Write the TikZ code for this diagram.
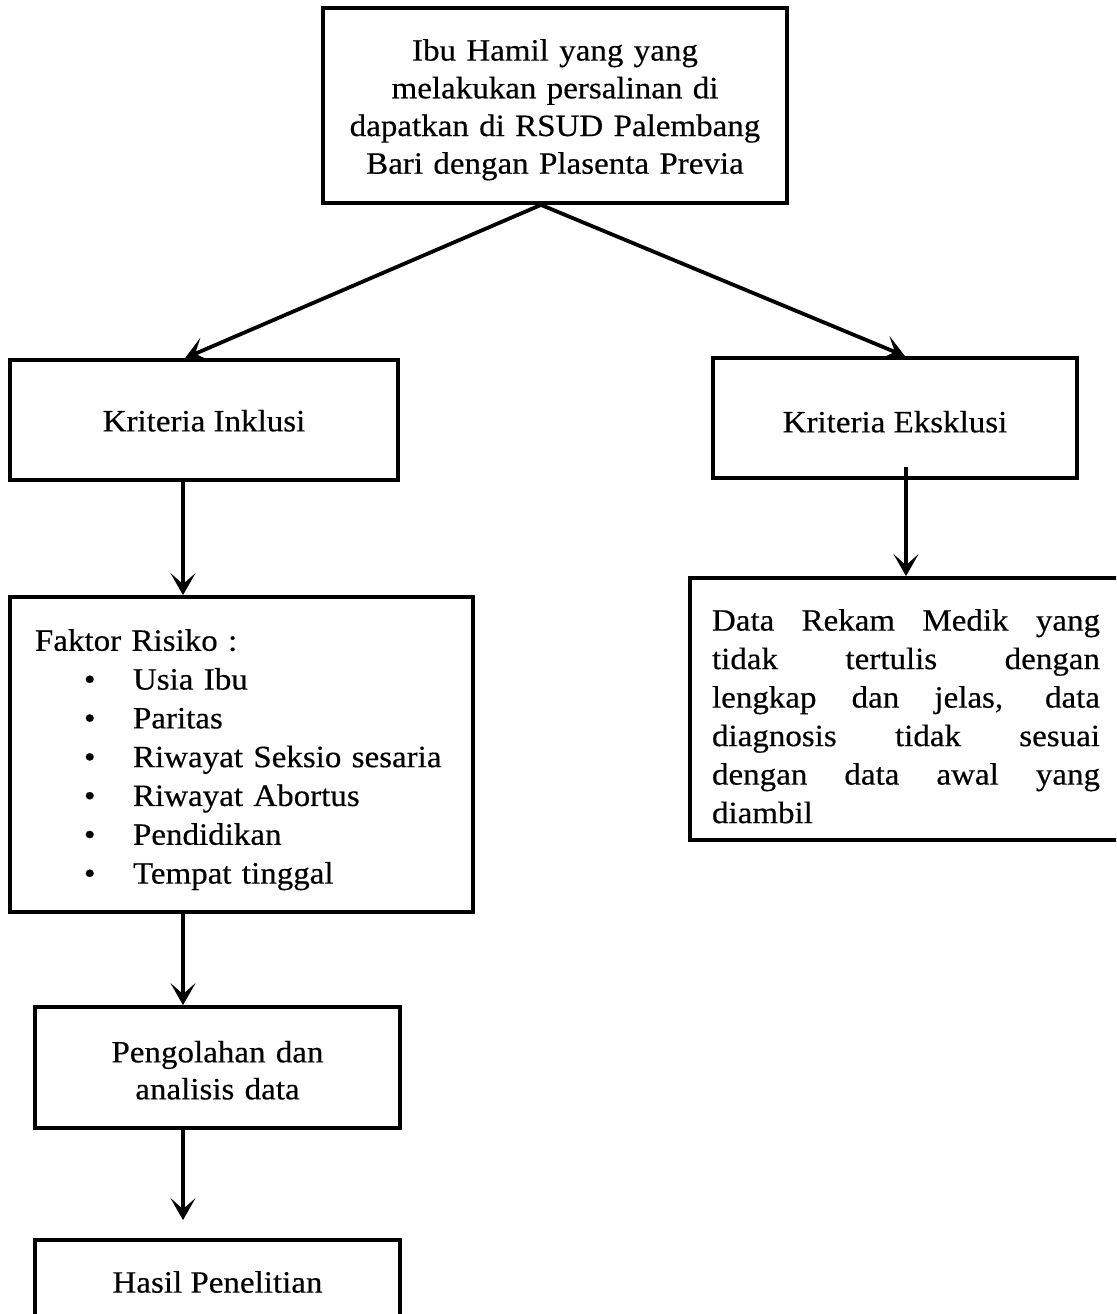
\documentclass[tikz,border=0pt]{standalone}
\usepackage{fontspec}
\setmainfont{Liberation Serif}[FakeStretch=1.065,FakeBold=0.4]
\usetikzlibrary{arrows.meta,calc}
\pretolerance=10000
\tolerance=10000
\hbadness=10000
\newcommand{\firstline}[1]{\rule{0pt}{#1}}
\begin{document}
\begin{tikzpicture}[x=1pt,y=-1pt,
  box/.style={draw=black, line width=3.8pt, inner sep=0pt, font=\fontsize{31}{38.8}\selectfont},
  arr/.style={line width=3.8pt, -{Stealth[length=22pt,width=25pt,inset=11pt]}},
]
\useasboundingbox (0,0) rectangle (1116,1314);
\fill[white] (0,0) rectangle (1116,1314);
\clip (0,0) rectangle (1116,1314);

\node[box, minimum width=464pt, minimum height=195pt, text width=440pt, align=center,
  font=\fontsize{31}{37.7}\selectfont] (top) at (555,105.5)
  {\firstline{30pt}Ibu Hamil yang yang\\melakukan persalinan di\\dapatkan di RSUD Palembang\\Bari dengan Plasenta Previa};

\node[box, minimum width=388pt, minimum height=120pt] (inkl) at (204,420) {\firstline{23pt}Kriteria Inklusi};
\node[box, minimum width=364pt, minimum height=120pt] (eks) at (895,418) {\firstline{29pt}Kriteria Eksklusi};

\node[box, minimum width=463pt, minimum height=315pt, text width=413pt, align=left] (fak) at (241.5,754.5)
  {\firstline{32pt}Faktor Risiko :\\
   \hspace*{49pt}\makebox[49pt][l]{\textbullet}Usia Ibu\\
   \hspace*{49pt}\makebox[49pt][l]{\textbullet}Paritas\\
   \hspace*{49pt}\makebox[49pt][l]{\textbullet}Riwayat Seksio sesaria\\
   \hspace*{49pt}\makebox[49pt][l]{\textbullet}Riwayat Abortus\\
   \hspace*{49pt}\makebox[49pt][l]{\textbullet}Pendidikan\\
   \hspace*{49pt}\makebox[49pt][l]{\textbullet}Tempat tinggal};

\node[box, minimum width=432pt, minimum height=262pt, text width=388pt, align=justify,
  font=\fontsize{31}{38.5}\selectfont] (data) at (906,709)
  {\firstline{36pt}Data Rekam Medik yang\linebreak tidak tertulis dengan\linebreak lengkap dan jelas, data\linebreak diagnosis tidak sesuai\linebreak dengan data awal yang\linebreak diambil};

\node[box, minimum width=365pt, minimum height=121pt, text width=340pt, align=center,
  font=\fontsize{31}{37}\selectfont] (peng) at (217.5,1067.5)
  {\firstline{27pt}Pengolahan dan\\analisis data};
\node[box, minimum width=365pt, minimum height=84pt] (hasil) at (217.5,1282) {Hasil Penelitian};

\draw[arr] ($(top.south)+(-14,0)$) -- ($(inkl.north)+(-19,0)$);
\draw[arr] ($(top.south)+(-14,0)$) -- ($(eks.north)+(10,0)$);
\draw[arr] ($(eks.south)+(11,-13)$) -- (data.north);
\draw[arr] ($(inkl.south)+(-21,0)$) -- ($(fak.north)+(-58.5,0)$);
\draw[arr] ($(fak.south)+(-58.5,0)$) -- ($(peng.north)+(-34.5,0)$);
\draw[arr] ($(peng.south)+(-34.5,0)$) -- ($(hasil.north)+(-34.5,-18)$);
\end{tikzpicture}
\end{document}
